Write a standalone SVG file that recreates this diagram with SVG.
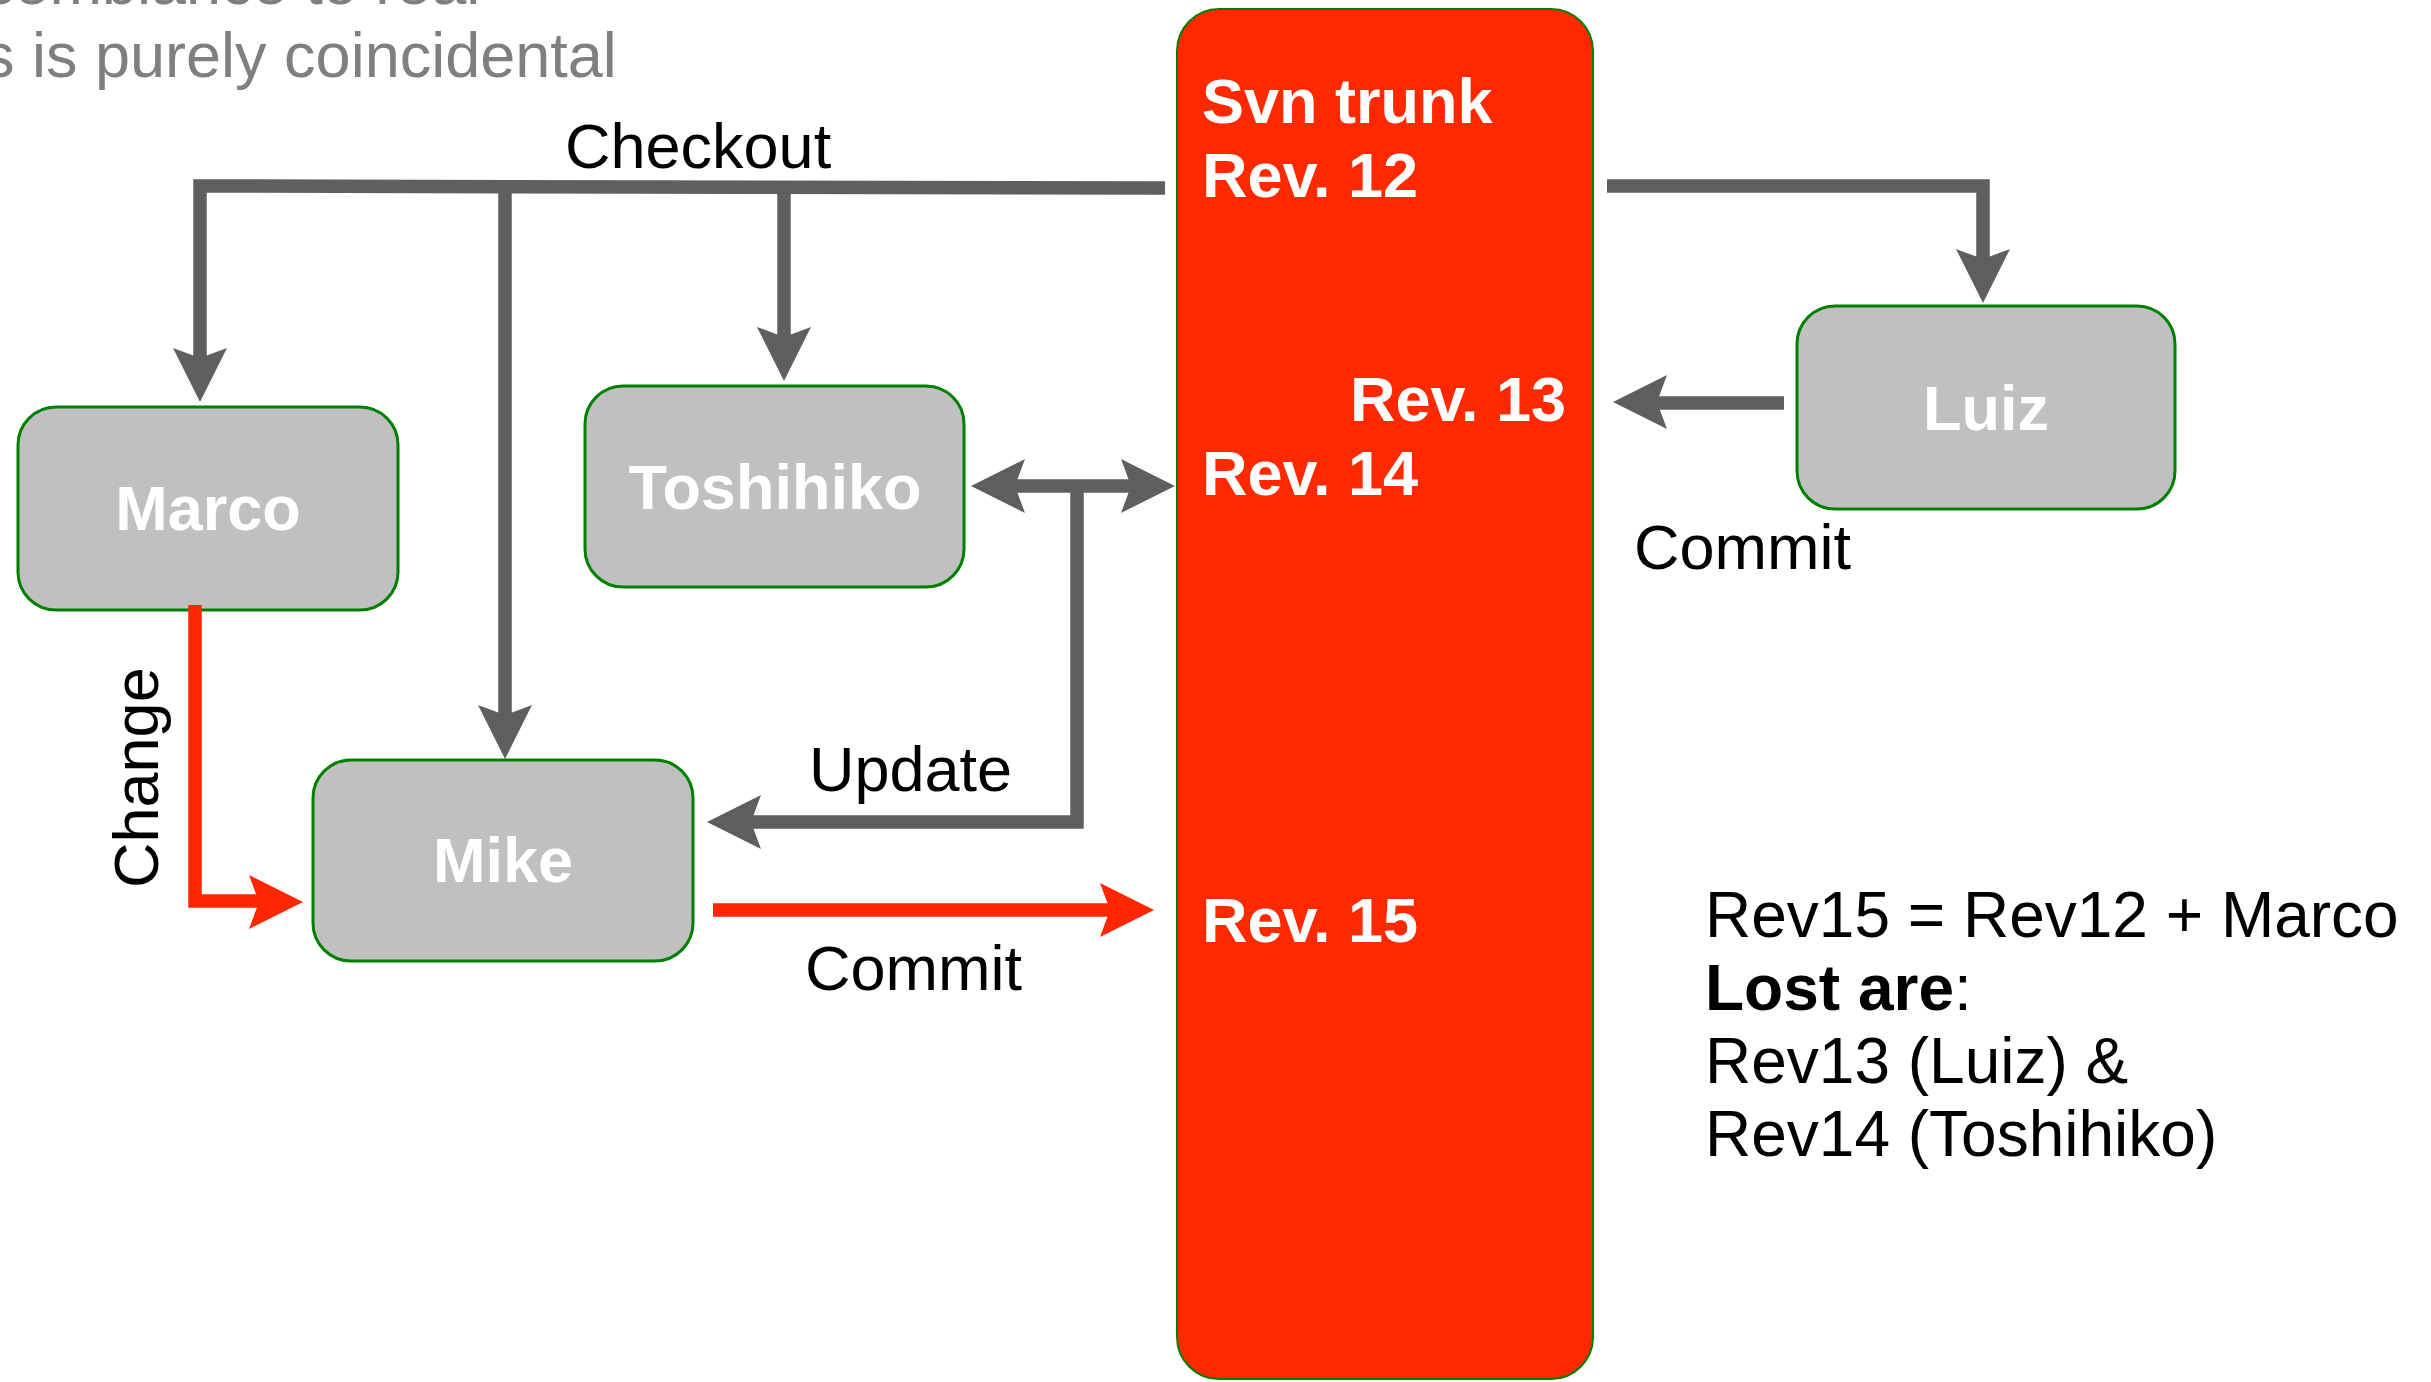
<svg xmlns="http://www.w3.org/2000/svg" width="2431" height="1382" viewBox="0 0 2431 1382">
  <style>
    .node { fill: #c0c0c0; stroke: #008000; stroke-width: 3; }
    .trunk { fill: #ff2900; stroke: #008000; stroke-width: 2; }
    .nlabel { font-family: "Liberation Sans", Arial, sans-serif; font-weight: bold; font-size: 63px; fill: #ffffff; text-anchor: middle; }
    .tlabel { font-family: "Liberation Sans", Arial, sans-serif; font-weight: bold; font-size: 63px; fill: #ffffff; }
    .lbl { font-family: "Liberation Sans", Arial, sans-serif; font-size: 63px; fill: #000000; }
    .note { font-family: "Liberation Sans", Arial, sans-serif; font-size: 64px; fill: #000000; }
    .disc { font-family: "Liberation Sans", Arial, sans-serif; font-size: 63px; fill: #7f7f7f; }
    .gline { fill: none; stroke: #5f5f5f; stroke-width: 13.5; stroke-linejoin: miter; }
    .rline { fill: none; stroke: #ff2600; stroke-width: 13.5; stroke-linejoin: miter; }
    .ghead { fill: #5f5f5f; }
    .rhead { fill: #ff2600; }
  </style>
  <defs>
    <path id="ah" d="M0,0 L-54,-27 L-44,0 L-54,27 Z"/>
  </defs>

  <g id="disclaimer">
    <text class="disc" x="-17" y="4">semblance to real</text>
    <text class="disc" x="-17" y="77">s is purely coincidental</text>
  </g>

  <g id="trunk">
    <rect class="trunk" x="1177" y="9" width="416" height="1370" rx="42" ry="42"/>
    <text class="tlabel" x="1202" y="123">Svn trunk</text>
    <text class="tlabel" x="1202" y="197">Rev. 12</text>
    <text class="tlabel" x="1350" y="421">Rev. 13</text>
    <text class="tlabel" x="1202" y="495">Rev. 14</text>
    <text class="tlabel" x="1202" y="942">Rev. 15</text>
  </g>

  <g id="marco">
    <rect class="node" x="18" y="407" width="380" height="203" rx="38" ry="38"/>
    <text class="nlabel" x="208" y="530">Marco</text>
  </g>
  <g id="toshihiko">
    <rect class="node" x="585" y="386" width="379" height="201" rx="38" ry="38"/>
    <text class="nlabel" x="775" y="509">Toshihiko</text>
  </g>
  <g id="mike">
    <rect class="node" x="313" y="760" width="380" height="201" rx="38" ry="38"/>
    <text class="nlabel" x="503" y="882">Mike</text>
  </g>
  <g id="luiz">
    <rect class="node" x="1797" y="306" width="378" height="203" rx="38" ry="38"/>
    <text class="nlabel" x="1986" y="430">Luiz</text>
  </g>

  <g id="connectors">
    <!-- Checkout -->
    <path class="gline" d="M1165,188 L200,186 L200,360"/>
    <use href="#ah" class="ghead" transform="translate(200,402) rotate(90)"/>
    <path class="gline" d="M505,187 V717"/>
    <use href="#ah" class="ghead" transform="translate(505,759) rotate(90)"/>
    <path class="gline" d="M784,188 V339"/>
    <use href="#ah" class="ghead" transform="translate(784,381) rotate(90)"/>
    <path class="gline" d="M1607,186 H1983 V261"/>
    <use href="#ah" class="ghead" transform="translate(1983,303) rotate(90)"/>
    <!-- Luiz commit -->
    <path class="gline" d="M1784,403 H1655"/>
    <use href="#ah" class="ghead" transform="translate(1613,402) rotate(180)"/>
    <!-- Toshihiko commit / update -->
    <path class="gline" d="M1013,486 H1133"/>
    <use href="#ah" class="ghead" transform="translate(971,486) rotate(180)"/>
    <use href="#ah" class="ghead" transform="translate(1175,486)"/>
    <path class="gline" d="M1077,486 V822 H749"/>
    <use href="#ah" class="ghead" transform="translate(707,822) rotate(180)"/>
    <!-- Change -->
    <path class="rline" d="M195,605 V901 H261"/>
    <use href="#ah" class="rhead" transform="translate(303,902)"/>
    <!-- Mike commit -->
    <path class="rline" d="M713,910 H1112"/>
    <use href="#ah" class="rhead" transform="translate(1154,910)"/>
  </g>

  <g id="labels">
    <text class="lbl" x="565" y="168">Checkout</text>
    <text class="lbl" x="1634" y="569">Commit</text>
    <text class="lbl" x="809" y="791">Update</text>
    <text class="lbl" x="805" y="990">Commit</text>
    <text class="lbl" transform="translate(158,888) rotate(-90)">Change</text>
  </g>

  <g id="note">
    <text class="note" x="1705" y="937">Rev15 = Rev12 + Marco</text>
    <text class="note" x="1705" y="1010"><tspan font-weight="bold">Lost are</tspan>:</text>
    <text class="note" x="1705" y="1083">Rev13 (Luiz) &amp;</text>
    <text class="note" x="1705" y="1156">Rev14 (Toshihiko)</text>
  </g>
</svg>
